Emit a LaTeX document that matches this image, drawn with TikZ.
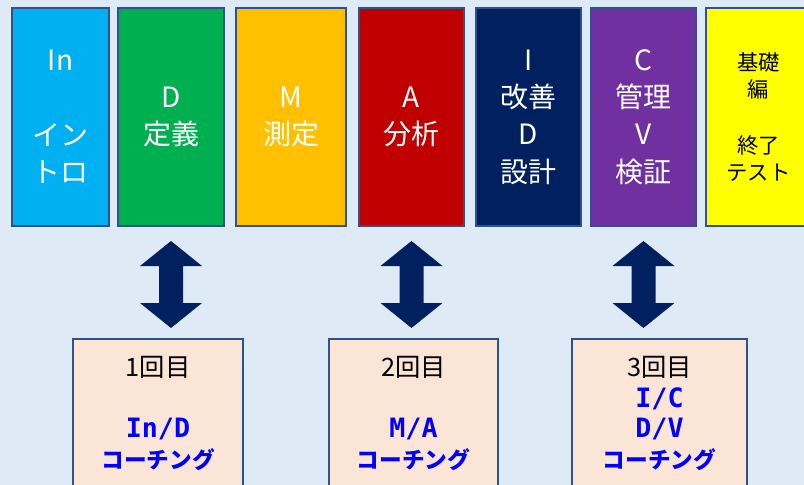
\documentclass[tikz,border=0pt]{standalone}
\usepackage{fontspec}
\setmainfont{Noto Sans CJK JP}
\newfontfamily\coachlatin{DejaVu Sans Mono}
\usetikzlibrary{positioning, calc}
\definecolor{slidebg}{HTML}{DEEBF7}
\definecolor{edgeblue}{HTML}{2F528F}
\definecolor{introblue}{HTML}{00B0F0}
\definecolor{definegreen}{HTML}{00B050}
\definecolor{measureorange}{HTML}{FFC000}
\definecolor{analyzered}{HTML}{C00000}
\definecolor{improvenavy}{HTML}{002060}
\definecolor{controlpurple}{HTML}{7030A0}
\definecolor{testyellow}{HTML}{FFFF00}
\definecolor{coachpeach}{HTML}{FBE5D6}
\definecolor{coachtext}{HTML}{0000FF}

\tikzset{
  phase/.style={draw=edgeblue, line width=1.5pt, minimum height=163.5pt, inner sep=0pt, align=center, text=white, font=\fontsize{21pt}{28pt}\selectfont},
  coach/.style={draw=edgeblue, line width=1.5pt, fill=coachpeach, minimum height=112pt, inner sep=0pt, align=center, text=coachtext, font=\fontsize{17pt}{23pt}\selectfont\bfseries},
  updown/.style={fill=improvenavy}
}

\begin{document}
\begin{tikzpicture}[x=0.75pt, y=-0.75pt]
  % Slide background
  \fill[slidebg] (0,0) rectangle (804,485);
  \useasboundingbox (0,0) rectangle (804,485);
  \clip (0,0) rectangle (804,485);

  % Phase boxes - one per DMAIC step
  \foreach \n/\cx/\w/\col/\txt in {
    intro/60.5/99/introblue/{In\\[28pt]イン\\トロ},
    define/171/108/definegreen/{D\\定義},
    measure/291/112/measureorange/{M\\測定},
    analyze/411.5/107/analyzered/{A\\分析},
    improve/528.5/107/improvenavy/{I\\改善\\D\\設計},
    control/643.5/107/controlpurple/{C\\管理\\V\\検証}} {
    \node[phase, fill=\col, minimum width=(\w-2)*0.75pt] (\n) at (\cx,117) {\txt};
  }
  % Final test box (runs off the slide edge)
  \node[phase, fill=testyellow, text=black, font=\fontsize{16pt}{20pt}\selectfont, minimum width=(107-2)*0.75pt] (test) at (758.5,117) {基礎\\編\\[22pt]終了\\テスト};

  % Coaching sessions
  \node[coach, minimum width=(172-2)*0.75pt] (coach1) at (158,413.5)
    {{\color{black}\mdseries\fontsize{19pt}{23pt}\selectfont 1回目}\\[23pt]{\coachlatin\fontsize{20pt}{23pt}\selectfont In/D}\\コーチング};
  \node[coach, minimum width=(171-2)*0.75pt] (coach2) at (413.5,413.5)
    {{\color{black}\mdseries\fontsize{19pt}{23pt}\selectfont 2回目}\\[23pt]{\coachlatin\fontsize{20pt}{23pt}\selectfont M/A}\\コーチング};
  \node[coach, minimum width=(177-2)*0.75pt] (coach3) at (659.5,413.5)
    {{\color{black}\mdseries\fontsize{19pt}{23pt}\selectfont 3回目}\\{\coachlatin\fontsize{20pt}{23pt}\selectfont I/C}\\{\coachlatin\fontsize{20pt}{23pt}\selectfont D/V}\\コーチング};

  % Up-down block arrows under the phases
  \foreach \t in {define, analyze, control} {
    \fill[updown] ($(\t.south)+(0,14)$) -- ++(31,25) -- ++(-19,0) -- ++(0,37) -- ++(19,0)
      -- ++(-31,25) -- ++(-31,-25) -- ++(19,0) -- ++(0,-37) -- ++(-19,0) -- cycle;
  }
\end{tikzpicture}
\end{document}
